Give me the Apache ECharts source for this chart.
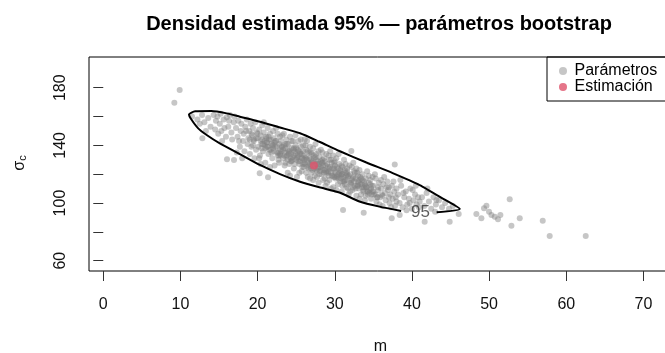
<!DOCTYPE html>
<html>
<head>
<meta charset="utf-8">
<script src="https://cdn.jsdelivr.net/npm/echarts@6/dist/echarts.min.js"></script>
<style>html,body{margin:0;padding:0;background:#fff}#c{width:665px;height:353px}</style>
</head>
<body>
<div id="c"></div>
<script>
// ---- Data ----
var titleText = 'Densidad estimada 95% \u2014 par\u00e1metros bootstrap';
var xTicks = [0, 10, 20, 30, 40, 50, 60, 70];
var yTicks = [60, 80, 100, 120, 140, 160, 180];
var yTickLabels = [60, 100, 140, 180];
var legendNames = ['Par\u00e1metros', 'Estimaci\u00f3n'];

// bootstrap parameters: m values
var paramM = [
  11.5,12.2,12.8,13.1,13.6,13.9,14.3,12.5,14.6,13.3,
  14.8,15.1,15.3,15.6,15.9,16.2,16.4,16.6,16.9,15.4,16.0,14.9,16.7,15.7,16.3,17.0,14.5,15.2,
  17.2,17.4,17.5,17.7,17.8,17.9,18.1,18.2,18.3,18.4,18.6,18.7,18.8,18.9,19.0,19.1,19.2,19.3,19.4,19.5,19.6,19.7,19.8,19.9,17.3,18.0,19.0,19.4,18.5,17.6,
  20.0,20.1,20.2,20.3,20.4,20.5,20.6,20.7,20.8,20.9,21.0,21.1,21.2,21.3,21.4,21.5,21.6,21.7,21.8,21.9,22.0,22.1,22.2,22.3,22.4,22.5,22.6,22.7,22.8,22.9,20.2,20.6,21.0,21.4,21.8,22.2,22.6,22.9,20.8,21.6,22.4,20.4,21.2,22.0,22.8,
  23.0,23.1,23.2,23.3,23.4,23.5,23.6,23.7,23.8,23.9,24.0,24.1,24.2,24.3,24.4,24.5,24.6,24.7,24.8,24.9,25.0,25.1,25.2,25.3,25.4,25.5,25.6,25.7,25.8,25.9,23.2,23.6,24.0,24.4,24.8,25.2,25.6,23.4,24.2,25.0,25.8,23.8,24.6,25.4,23.0,24.9,25.5,24.3,23.5,25.9,23.9,24.7,25.3,24.1,25.7,
  26.0,26.1,26.2,26.3,26.4,26.5,26.6,26.7,26.8,26.9,27.0,27.1,27.2,27.3,27.4,27.5,27.6,27.7,27.8,27.9,28.0,28.1,28.2,28.3,28.4,28.5,28.6,28.7,28.8,28.9,26.2,26.6,27.0,27.4,27.8,28.2,28.6,26.4,27.2,28.0,28.8,26.8,27.6,28.4,26.0,27.0,28.0,26.5,27.5,28.5,26.3,27.3,28.3,26.9,27.9,28.7,26.7,27.7,28.9,26.1,
  29.0,29.1,29.2,29.3,29.4,29.5,29.6,29.7,29.8,29.9,30.0,30.1,30.2,30.3,30.4,30.5,30.6,30.7,30.8,30.9,31.0,31.1,31.2,31.3,31.4,31.5,31.6,31.7,31.8,31.9,29.2,29.6,30.0,30.4,30.8,31.2,31.6,29.4,30.2,31.0,31.8,29.8,30.6,31.4,29.0,30.0,31.0,29.5,30.5,31.5,29.3,30.3,31.3,29.9,30.9,
  32.0,32.1,32.2,32.3,32.4,32.5,32.6,32.7,32.8,32.9,33.0,33.1,33.2,33.3,33.4,33.5,33.6,33.7,33.8,33.9,34.0,34.1,34.2,34.3,34.4,34.5,34.6,34.7,34.8,34.9,32.2,32.6,33.0,33.4,33.8,34.2,34.6,32.4,33.2,34.0,32.8,33.6,34.4,32.0,33.0,
  35.0,35.1,35.3,35.4,35.6,35.7,35.9,36.0,36.2,36.3,36.5,36.6,36.8,36.9,37.1,37.2,37.4,37.5,37.7,37.8,38.0,35.2,35.8,36.4,37.0,37.6,35.5,36.1,36.7,37.3,37.9,35.0,36.0,37.0,38.0,
  38.2,38.4,38.6,38.8,39.0,39.2,39.4,39.6,39.8,40.0,40.2,40.4,40.6,40.8,38.5,39.3,40.1,40.9,38.9,39.7,40.5,41.0,
  41.3,41.6,41.9,42.2,42.5,42.8,43.1,43.5,43.9,44.3,44.8,45.3,42.0,43.0,
  19.2,19.8,20.4,20.9,21.3,21.7,22.1,22.5,22.9,23.3,23.7,24.1,24.5,24.9,25.3,25.7,26.1,26.5,26.9,27.3,27.7,28.1,28.5,28.9,29.3,29.7,30.1,30.5,30.9,31.3,31.7,32.1,32.5,32.9,33.3,33.7,34.1,34.5,34.9,35.3,
  19.5,20.0,20.7,21.1,21.5,21.9,22.3,22.7,23.1,23.5,23.9,24.3,24.7,25.1,25.5,25.9,26.3,26.7,27.1,27.5,27.9,28.3,28.7,29.1,29.5,29.9,30.3,30.7,31.1,31.5,31.9,32.3,32.7,33.1,33.5,33.9,34.3,34.7,35.5,36.2,
  20.5,21.2,22.0,22.8,23.6,24.4,25.2,26.0,26.8,27.6,28.4,29.2,30.0,30.8,31.6,32.4,33.2,34.0,34.8,35.6,
  9.90,9.21,12.84,16.03,16.94,20.27,21.35,32.15,37.77,31.07,33.75,37.38,38.41,41.65,43.17,44.89,46.06,
  48.35,49.0,49.34,49.65,49.99,50.30,50.73,51.15,51.46,52.67,52.89,53.97,56.95,57.85,62.52
];
// bootstrap parameters: sigma_c values
var paramS = [
  160,158,161,156,159,153,161,155,157,150,
  160,155,150,158,146,153,161,149,156,143,159.5,148,144,152,157,160,151,162,
  152,146,157,139,150,155,143,148,136,153,158,141,145,150,134,155,139,147,152,143,131,156,137,149,135,131,144,140,150,143,
  145,139,151,133,147,141,154,136,149,143,128,146,139,152,134,144,148,137,141,131,150,145,126,139,143,135,148,130,141,137,131,144,138,146,135,142,133,146,156,125,152,127,142,138,128,
  143,136,147,131,140,126,138,144,133,121,141,135,146,129,138,132,143,124,136,140,130,118,137,143,127,134,139,122,131,136,139,128,134,143,127,132,144,148,119,138,125,141,137,121,133,147,129,131,135,140,130,133,136,127,134,
  133,127,140,121,130,136,124,131,117,135,128,123,138,131,119,127,134,122,129,114,132,125,137,120,128,123,131,117,126,134,131,128,134,126,124,129,121,143,116,120,112,139,130,135,125,121,127,118,141,116,137,133,124,124,136,129,135,118,122,144,
  127,121,133,116,125,130,119,124,111,128,122,117,131,125,113,120,127,115,122,108,125,118,130,113,121,116,124,110,119,126,122,128,118,124,119,115,120,136,109,112,106,133,121,127,114,129,120,110,134,111,130,119,123,118,126,
  120,114,125,109,118,122,112,117,105,121,115,110,123,118,106,113,120,108,115,102,117,111,122,106,114,109,116,103,112,118,116,121,112,117,111,108,113,128,103,105,124,116,119,108,119,
  112,106,117,101,109,114,104,110,98,113,107,102,115,109,100,106,112,103,108,98,110,120,99,118,104,115,104,106,111,97,104,108,116,111,101,
  106,100,112,97,104,108,99,103,110,96,102,106,99,104,116,95,109,97,107,100,112,101,
  104,98,107,101,96,104,99,102,97,100,96,98,110,94,
  148,145,143,140,139,144,136,139,134,137,132,136,130,134,129,131,128,125,130,124,127,122,126,121,124,119,121,117,120,116,118,113,115,112,113,109,111,107,108,106,
  144,148,141,145,137,140,143,135,139,133,137,134,138,131,135,127,132,126,129,132,125,128,123,125,121,124,118,123,115,119,114,117,110,114,111,113,108,110,104,105,
  138,142,140,133,141,129,133,130,127,123,130,119,126,117,122,111,116,112,106,111,
  178.4,169.6,144.9,130.3,129.9,120.6,117.9,136.1,126.7,95.2,93.3,89.4,91.7,87.0,102.1,87.0,92.4,
  92.4,89.4,96.3,98.2,94.0,91.7,90.5,88.7,91.7,102.6,84.3,89.4,87.7,77.1,77.1
];
// point estimate
var estM = [27.3];
var estS = [126];
// 95% density contour (m, sigma_c), open at the "95" label
var contourM = [43.2,46.2,44.0,41.0,37.5,34.1,30.6,28.0,25.5,22.9,20.3,17.7,16.0,14.0,11.9,11.1,11.4,12.3,13.4,15.1,17.7,20.3,22.9,25.5,28.0,30.6,33.2,35.8,38.6];
var contourS = [93.6,95.9,103.1,112.5,120.8,128.1,136.1,142.5,148.4,152.4,156.4,159.9,162.2,163.8,163.6,161.4,158.1,151.8,147.2,141.4,134.0,126.4,120.1,114.8,110.9,107.3,101.1,97.5,94.5];
var contourLabel = ['95'];
var contourLabelM = [41.1];
var contourLabelS = [93.4];

function zip(a, b) { return a.map(function (v, i) { return [v, b[i]]; }); }

var FONT = 'Liberation Sans, Arial, sans-serif';
var chart = echarts.init(document.getElementById('c'));
chart.setOption({
  animation: false,
  backgroundColor: '#fff',
  title: {
    text: titleText, left: 374, top: 9, textAlign: 'center',
    textStyle: { fontFamily: FONT, fontSize: 20, fontWeight: 'bold', color: '#000' }
  },
  legend: {
    orient: 'vertical', left: 547, top: 57,
    data: [{ name: legendNames[0], icon: 'circle' }, { name: legendNames[1], icon: 'circle' }],
    itemWidth: 13, itemHeight: 8, itemGap: 0,
    padding: [6, 40, 6, 12],
    borderColor: '#000', borderWidth: 1, borderRadius: 0,
    textStyle: { fontFamily: FONT, fontSize: 16, color: '#000', lineHeight: 14.7 }
  },
  grid: { left: 89, top: 57, width: 583, height: 214, outerBoundsMode: 'none', containLabel: false,
    show: true, borderColor: '#000', borderWidth: 1, backgroundColor: 'transparent' },
  xAxis: {
    type: 'value', min: -1.85, max: 73.7,
    axisLine: { show: false }, splitLine: { show: false },
    axisTick: { show: true, inside: false, length: 10, customValues: xTicks, lineStyle: { color: '#333' } },
    axisLabel: { customValues: xTicks, margin: 26, fontFamily: FONT, fontSize: 16, color: '#111' },
    name: 'm', nameLocation: 'middle', nameGap: 68,
    nameTextStyle: { fontFamily: FONT, fontSize: 16, color: '#111' }
  },
  yAxis: {
    type: 'value', min: 52.86, max: 201.3,
    axisLine: { show: false }, splitLine: { show: false },
    axisTick: { show: true, inside: false, length: 10, customValues: yTicks, lineStyle: { color: '#333' } },
    axisLabel: { customValues: yTickLabels, rotate: 90, margin: 20, fontFamily: FONT, fontSize: 16, color: '#111' }
  },
  graphic: [{
    type: 'text', x: 20, y: 163, rotation: Math.PI / 2,
    style: {
      text: '{a|\u03c3}{b|c}', align: 'center', verticalAlign: 'middle',
      rich: {
        a: { fontFamily: FONT, fontSize: 16, lineHeight: 16, verticalAlign: 'top', fill: '#111' },
        b: { fontFamily: FONT, fontSize: 11, lineHeight: 11, verticalAlign: 'bottom', padding: [8, 0, 0, 0], fill: '#111' }
      }
    }
  }],
  series: [
    {
      name: legendNames[0], type: 'scatter', symbol: 'circle', symbolSize: 6,
      itemStyle: { color: '#808080', opacity: 0.45 },
      data: zip(paramM, paramS), z: 2
    },
    {
      name: 'contour', type: 'line', symbol: 'none', smooth: 0.2,
      lineStyle: { color: '#000', width: 2 },
      data: zip(contourM, contourS), z: 3, silent: true
    },
    {
      name: 'contourLabel', type: 'scatter', symbolSize: 0,
      label: { show: true, position: 'inside', formatter: function (p) { return contourLabel[p.dataIndex]; },
        fontFamily: FONT, fontSize: 17, color: '#333' },
      data: zip(contourLabelM, contourLabelS), z: 4, silent: true
    },
    {
      name: legendNames[1], type: 'scatter', symbol: 'circle', symbolSize: 8,
      itemStyle: { color: '#DF536B' },
      data: zip(estM, estS), z: 5
    }
  ]
});
</script>
</body>
</html>
